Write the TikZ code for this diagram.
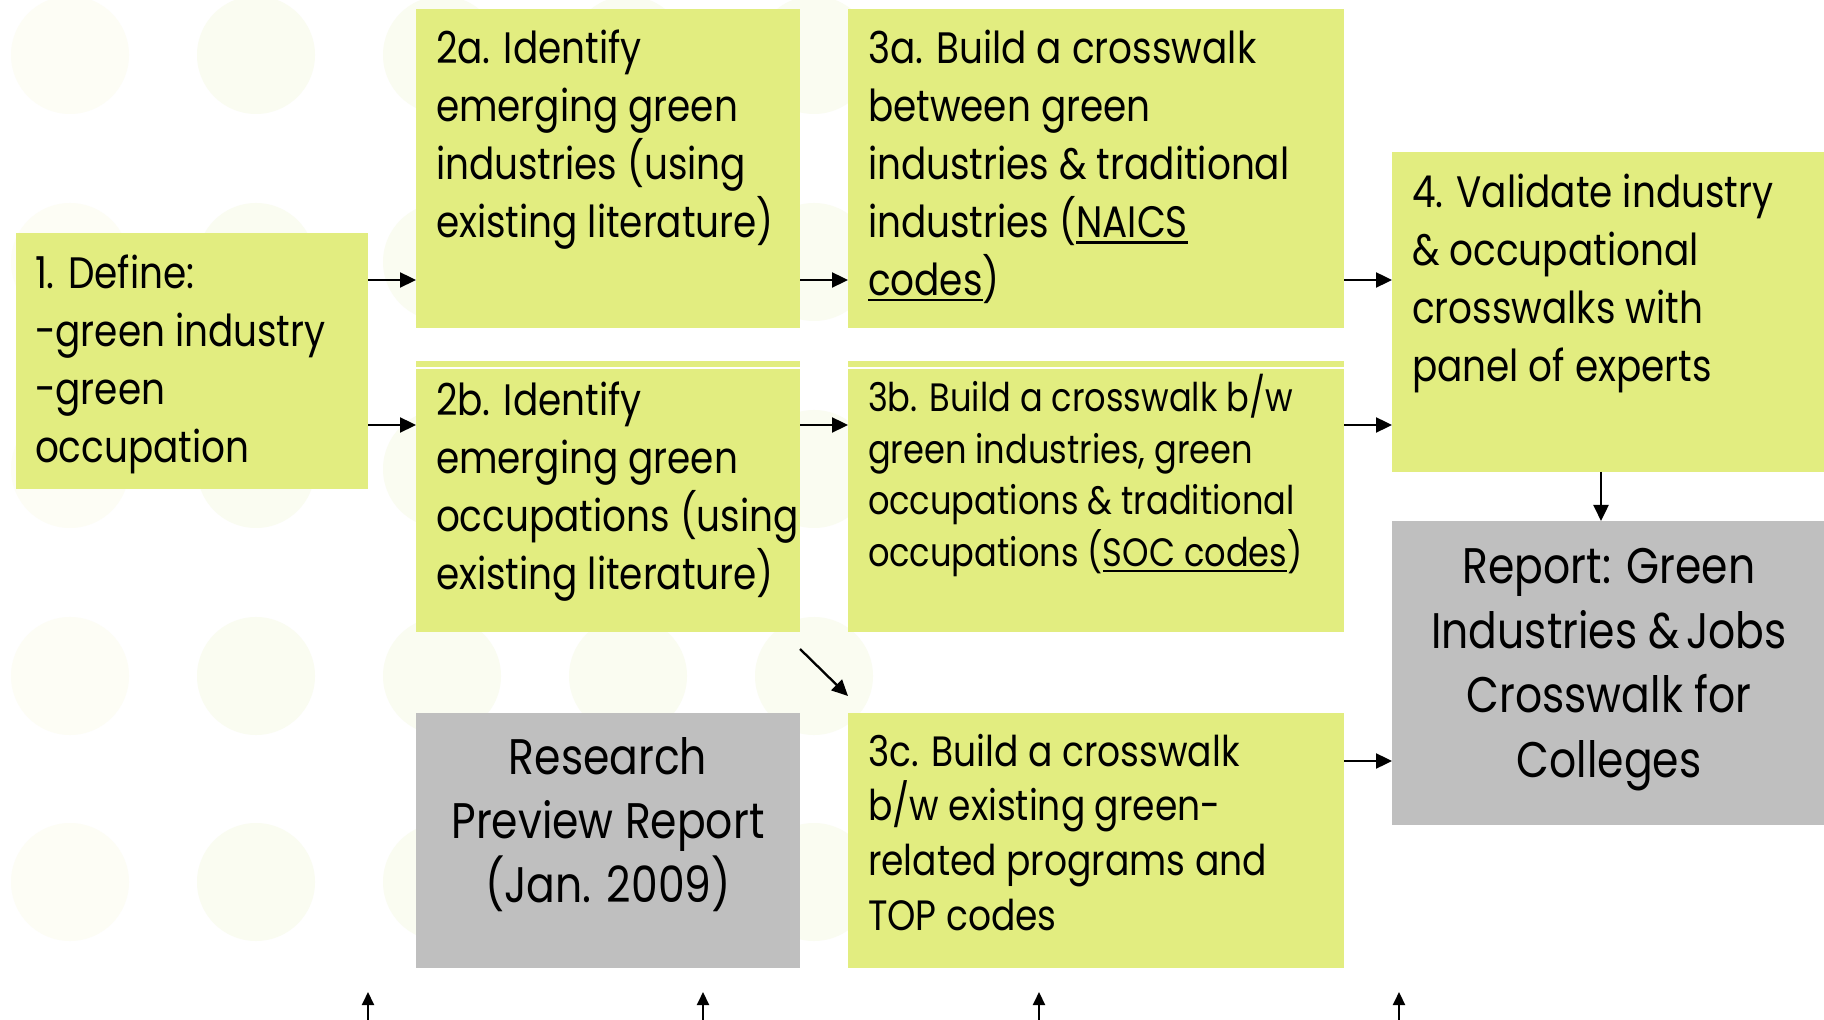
\documentclass[tikz,border=0pt]{standalone}
\usepackage{fontspec}
\setmainfont[FakeStretch=0.85]{Poppins}
\usetikzlibrary{arrows.meta,calc}
\definecolor{boxg}{RGB}{226,237,128}
\definecolor{boxgray}{RGB}{191,191,191}
\definecolor{dotc}{RGB}{250,252,241}
\definecolor{dotl}{RGB}{253,253,245}
\newcommand\ul[1]{\setbox0\hbox{#1}\rlap{\rule[-0.14em]{\wd0}{0.06em}}\box0}
\newcommand\lnsl[1]{\vtop{\halign{##\hfil\cr#1\crcr}}}
\newcommand\lnsc[1]{\vtop{\halign{\hfil##\hfil\cr#1\crcr}}}
\tikzset{
  gbox/.style={rectangle,fill=boxg,draw=none,inner sep=0pt,outer sep=0pt},
  rbox/.style={rectangle,fill=boxgray,draw=none,inner sep=0pt,outer sep=0pt},
  ltxt/.style={inner sep=0pt,outer sep=0pt,anchor=base west},
  ctxt/.style={inner sep=0pt,outer sep=0pt,anchor=base},
  fmain/.style={font=\fontsize{22}{28.9}\selectfont},
  fthreeb/.style={font=\fontsize{19.8}{25.75}\selectfont},
  fthreec/.style={font=\fontsize{21.2}{27.35}\selectfont},
  fbig/.style={font=\fontsize{25}{32.2}\selectfont},
  arr/.style={-{Triangle[length=8pt,width=7.5pt]},line width=1.15pt,black},
  sarr/.style={-{Triangle[length=6.5pt,width=6pt]},line width=1pt,black},
  bgdot/.style={fill=dotc,draw=none},
  bgdotl/.style={fill=dotl,draw=none}
}
\begin{document}
\begin{tikzpicture}[x=0.5pt,y=-0.5pt]
\fill[white] (0,0) rectangle (1824,1020);
\useasboundingbox (0,0) rectangle (1824,1020);
% background dots
\foreach \cy in {55,262,469,676,882}{
  \fill[bgdotl] (70,\cy) circle[radius=29.5pt];
  \foreach \cx in {256,442,628,814}{
    \fill[bgdot] (\cx,\cy) circle[radius=29.5pt];
  }
}
% boxes
\node[gbox,minimum width=176pt,minimum height=128pt] (b1) at (192,361) {};
\node[gbox,minimum width=192pt,minimum height=159.5pt] (b2a) at (608,168.5) {};
\node[gbox,minimum width=192pt,minimum height=135.5pt] (b2b) at (608,496.5) {};
\node[gbox,minimum width=248pt,minimum height=159.5pt] (b3a) at (1096,168.5) {};
\node[gbox,minimum width=248pt,minimum height=135.5pt] (b3b) at (1096,496.5) {};
\node[gbox,minimum width=216pt,minimum height=160pt] (b4) at (1608,312) {};
\node[rbox,minimum width=216pt,minimum height=152pt] (brep) at (1608,673) {};
\node[rbox,minimum width=192pt,minimum height=127.5pt] (bres) at (608,840.5) {};
\node[gbox,minimum width=248pt,minimum height=127.5pt] (b3c) at (1096,840.5) {};
% thin white lines near top of 2b and 3b
\draw[white,line width=0.6pt] (b2b.west |- 0,368) -- (b2b.east |- 0,368);
\draw[white,line width=0.6pt] (b3b.west |- 0,368) -- (b3b.east |- 0,368);
% texts
\node[ltxt,fmain] (t1) at (35,289) {\lnsl{1. Define:\cr -green industry\cr -green\cr occupation}};
\node[ltxt,fmain] (t2a) at (436,64) {\lnsl{2a. Identify\cr emerging green\cr industries (using\cr existing literature)}};
\node[ltxt,fmain] (t2b) at (436,416) {\lnsl{2b. Identify\cr emerging green\cr occupations (using\cr existing literature)}};
\node[ltxt,fmain] (t3a) at (868,64) {\lnsl{3a. Build a crosswalk\cr between green\cr industries \& traditional\cr industries (\ul{NAICS}\cr \ul{codes})}};
\node[ltxt,fthreeb] (t3b) at (868,412) {\lnsl{3b. Build a crosswalk b/w\cr green industries, green\cr occupations \& traditional\cr occupations (\ul{SOC codes})}};
\node[ltxt,fthreec] (t3c) at (868,766) {\lnsl{3c. Build a crosswalk\cr b/w existing green-\cr related programs and\cr TOP codes}};
\node[ltxt,fmain] (t4) at (1412,208) {\lnsl{4. Validate industry\cr \& occupational\cr crosswalks with\cr panel of experts}};
\node[ctxt,fbig] (tres) at (608,774) {\lnsc{Research\cr Preview Report\cr (Jan. 2009)}};
\node[ctxt,fbig] (trep) at (1609,584) {\lnsc{Report: Green\cr Industries \&\kern0.12em Jobs\cr Crosswalk for\cr Colleges}};
% connectors
\draw[arr] (b1.east |- 0,280) -- (b2a.west |- 0,280);
\draw[arr] (b1.east |- 0,425) -- (b2b.west |- 0,425);
\draw[arr] (b2a.east |- 0,280) -- (b3a.west |- 0,280);
\draw[arr] (b2b.east |- 0,425) -- (b3b.west |- 0,425);
\draw[arr] (b3a.east |- 0,280) -- (b4.west |- 0,280);
\draw[arr] (b3b.east |- 0,425) -- (b4.west |- 0,425);
\draw[arr] (b4.south -| 1601,0) -- (brep.north -| 1601,0);
\draw[arr] (b3c.east |- 0,761) -- (brep.west |- 0,761);
\draw[arr] ($(b2b.south east)+(0,17)$) -- ($(b3c.north west)+(0,-17)$);
% small up arrows at bottom
\foreach \ax [count=\i] in {368,703,1039,1399}{
  \coordinate (ub\i) at (\ax,1020);
  \coordinate (ut\i) at (\ax,992);
  \draw[sarr] (ub\i) -- (ut\i);
}
\end{tikzpicture}
\end{document}
